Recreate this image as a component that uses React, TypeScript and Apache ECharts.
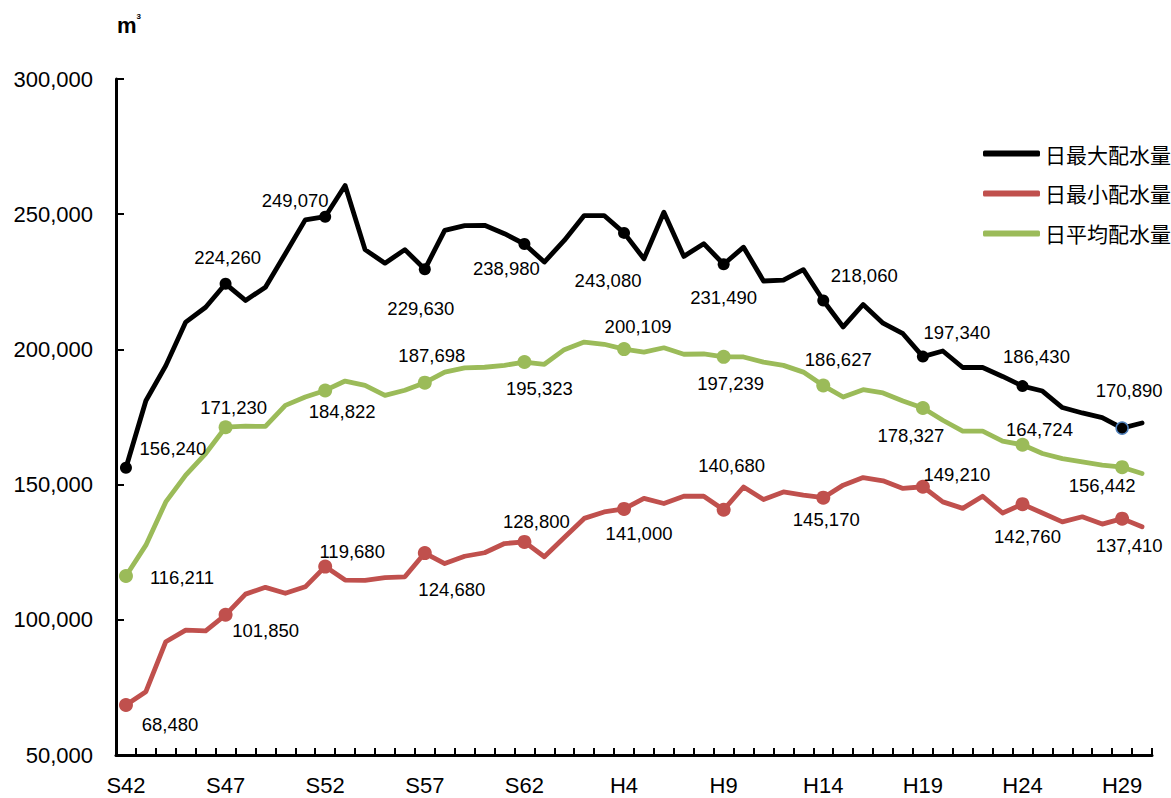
import React, { useEffect, useRef } from "react";
import * as echarts from "echarts";

const categories = [
  "S42","S43","S44","S45","S46","S47","S48","S49","S50","S51",
  "S52","S53","S54","S55","S56","S57","S58","S59","S60","S61",
  "S62","S63","H1","H2","H3","H4","H5","H6","H7","H8",
  "H9","H10","H11","H12","H13","H14","H15","H16","H17","H18",
  "H19","H20","H21","H22","H23","H24","H25","H26","H27","H28",
  "H29","H30",
];

const maxVals = [
  156240, 181000, 194000, 210100, 215600, 224260, 218100, 223000, 235400, 247900,
  249070, 260600, 236900, 231900, 236900, 229630, 244000, 245800, 245900, 242800,
  238980, 232300, 240300, 249500, 249500, 243080, 233500, 250700, 234400, 239100,
  231490, 237800, 225300, 225600, 229500, 218060, 208300, 216600, 209700, 205800,
  197340, 199400, 193300, 193300, 190000, 186430, 184600, 178500, 176500, 174800,
  170890, 172800,
];

const minVals = [
  68480, 73400, 91900, 96200, 95900, 101850, 109500, 112000, 109800, 112200,
  119680, 114700, 114600, 115600, 115900, 124680, 120800, 123500, 124800, 128200,
  128800, 123300, 130400, 137500, 139900, 141000, 144900, 143000, 145700, 145700,
  140680, 149100, 144500, 147300, 146100, 145170, 149800, 152600, 151400, 148600,
  149210, 143600, 141200, 145700, 139500, 142760, 139500, 136200, 138100, 135400,
  137410, 134400,
];

const avgVals = [
  116211, 127600, 143600, 153500, 161500, 171230, 171600, 171500, 179300, 182400,
  184822, 188300, 186700, 183000, 184900, 187698, 191600, 193200, 193400, 194100,
  195323, 194500, 199900, 202700, 201900, 200109, 199000, 200600, 198200, 198300,
  197239, 197200, 195300, 194100, 191600, 186627, 182400, 185100, 183900, 180900,
  178327, 173800, 169800, 169800, 166100, 164724, 161500, 159600, 158400, 157200,
  156442, 154100,
];

const seriesNames = ["日最大配水量", "日最小配水量", "日平均配水量"];
const yTicks = [50000, 100000, 150000, 200000, 250000, 300000];

// indices of labelled points (every 5 years)
const markedIdx = [0, 5, 10, 15, 20, 25, 30, 35, 40, 45, 50];

// label offsets (styling)
const maxOffsets = [[47, -19], [2, -26], [-30, -16], [-4, 39], [-18, 25], [-16, 48], [0, 33], [41, -25], [34, -24], [14, -30], [7, -38]];
const avgOffsets = [[56, 2], [8, -20], [17, 21], [7, -27], [15, 26], [14, -23], [7, 27], [15, -26], [-12, 27], [17, -15], [-20, 18]];
const minOffsets = [[44, 19], [40, 16], [27, -15], [27, 36], [12, -20], [15, 25], [8, -44], [3, 22], [34, -12], [5, 32], [7, 27]];

const NUM_FONT = "'Liberation Sans', Arial, sans-serif";
const CJK_FONT = "'Noto Sans CJK JP', sans-serif";

const fmt = (v: number) => v.toLocaleString("en-US");

function buildData(vals: number[], offsets: number[][], size: number, special?: { idx: number; border: string }) {
  return vals.map((v, i) => {
    const k = markedIdx.indexOf(i);
    if (k < 0) return { value: v, symbol: "none" };
    const item: any = {
      value: v,
      symbol: "circle",
      symbolSize: size,
      label: {
        show: true,
        position: "inside",
        offset: offsets[k],
        align: "center",
        verticalAlign: "middle",
        color: "#000",
        fontSize: 18.5,
        fontFamily: NUM_FONT,
        formatter: () => fmt(v),
      },
    };
    if (special && special.idx === i) {
      item.itemStyle = { borderColor: special.border, borderWidth: 1.5 };
    }
    return item;
  });
}

export default function App() {
  const ref = useRef<HTMLDivElement>(null);
  useEffect(() => {
    if (!ref.current) return;
    const chart = echarts.init(ref.current, null, { renderer: "svg" });
    const lineBase = (color: string) => ({
      type: "line" as const,
      showAllSymbol: true,
      lineStyle: { color, width: 4.8, cap: "round", join: "round" },
      itemStyle: { color },
      emphasis: { disabled: true },
      z: 2,
    });
    chart.setOption({
      animation: false,
      backgroundColor: "#fff",
      grid: { left: 116, right: 19, top: 79, bottom: 43, containLabel: false },
      legend: {
        orient: "vertical",
        left: 978,
        top: 138,
        itemWidth: 57,
        itemHeight: 6,
        itemGap: 19,
        icon: "roundRect",
        data: seriesNames,
        textStyle: { fontSize: 21, fontFamily: CJK_FONT, color: "#000" },
      },
      graphic: [
        {
          type: "text",
          left: 117,
          top: 10,
          style: {
            text: "{m|m}{s|3}",
            rich: {
              m: { fontSize: 22, fontWeight: "bold", fontFamily: NUM_FONT, fill: "#000", color: "#000", lineHeight: 26, verticalAlign: "bottom" },
              s: { fontSize: 8, fontWeight: "bold", fontFamily: NUM_FONT, fill: "#000", color: "#000", lineHeight: 26, verticalAlign: "top", padding: [2, 0, 0, 0] },
            },
          },
        },
      ],
      xAxis: {
        type: "category",
        data: categories,
        boundaryGap: true,
        axisLine: { lineStyle: { color: "#000", width: 3 } },
        axisTick: { show: true, inside: true, length: 7, interval: 0, lineStyle: { color: "#000", width: 2 } },
        axisLabel: { interval: 4, color: "#000", fontSize: 22, fontFamily: NUM_FONT, margin: 19 },
        splitLine: { show: false },
      },
      yAxis: {
        type: "value",
        min: yTicks[0],
        max: yTicks[yTicks.length - 1],
        interval: 50000,
        axisLine: { show: true, lineStyle: { color: "#000", width: 3 } },
        axisTick: { show: true, inside: true, length: 8, lineStyle: { color: "#000", width: 2 } },
        axisLabel: { color: "#000", fontSize: 22, fontFamily: NUM_FONT, margin: 23, formatter: (v: number) => fmt(v) },
        splitLine: { show: false },
      },
      series: [
        { ...lineBase("#000000"), name: seriesNames[0], data: buildData(maxVals, maxOffsets, 12, { idx: 50, border: "#4F81BD" }) },
        { ...lineBase("#C0504D"), name: seriesNames[1], data: buildData(minVals, minOffsets, 14) },
        { ...lineBase("#9BBB59"), name: seriesNames[2], data: buildData(avgVals, avgOffsets, 14) },
      ],
    });
    return () => chart.dispose();
  }, []);
  return <div ref={ref} style={{ position: "fixed", left: 0, top: 0, width: 1171, height: 798, background: "#fff" }} />;
}
